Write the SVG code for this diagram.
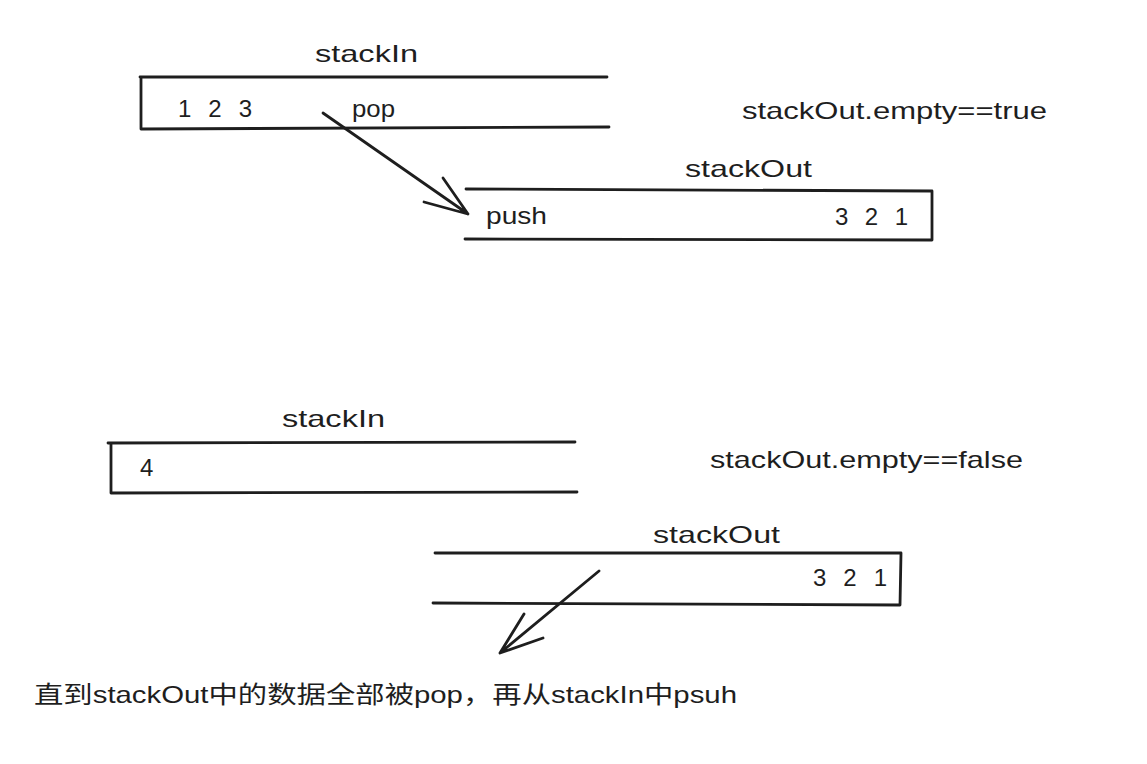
<svg xmlns="http://www.w3.org/2000/svg" width="1147" height="764" viewBox="0 0 1147 764">
<style>
.s{fill:none;stroke:#1e1e1e;stroke-width:2.8;stroke-linecap:round;stroke-linejoin:round}
.t{font-family:"Liberation Sans","Noto Sans CJK SC",sans-serif;fill:#1e1e1e;font-size:24px}
</style>
<rect width="1147" height="764" fill="#ffffff"/>
<g id="stackIn-top">
<path class="s" d="M140 77 L607 77 M141 77 L141 129 L609 127"/>
<text class="t" x="315" y="62" textLength="103" lengthAdjust="spacingAndGlyphs">stackIn</text>
<text class="t" x="178" y="117" textLength="74" lengthAdjust="spacing">1 2 3</text>
<text class="t" x="352" y="117" textLength="43" lengthAdjust="spacingAndGlyphs">pop</text>
</g>
<g id="stackOut-top">
<path class="s" d="M466 189 L932 191 L932 240 L465 239"/>
<text class="t" x="685" y="177" textLength="127" lengthAdjust="spacingAndGlyphs">stackOut</text>
<text class="t" x="486" y="224" textLength="61" lengthAdjust="spacingAndGlyphs">push</text>
<text class="t" x="835" y="225" textLength="73" lengthAdjust="spacing">3 2 1</text>
</g>
<g id="cond-true">
<text class="t" x="742" y="119" textLength="305" lengthAdjust="spacingAndGlyphs">stackOut.empty==true</text>
</g>
<g id="stackIn-bottom">
<path class="s" d="M108 443 L575 442 M111 443 L111 493 L577 492"/>
<text class="t" x="282" y="427" textLength="103" lengthAdjust="spacingAndGlyphs">stackIn</text>
<text class="t" x="140" y="476">4</text>
</g>
<g id="cond-false">
<text class="t" x="710" y="468" textLength="313" lengthAdjust="spacingAndGlyphs">stackOut.empty==false</text>
</g>
<g id="stackOut-bottom">
<path class="s" d="M435 553 L901 553 L900 605 L433 603"/>
<text class="t" x="653" y="543" textLength="127" lengthAdjust="spacingAndGlyphs">stackOut</text>
<text class="t" x="813" y="586" textLength="74" lengthAdjust="spacing">3 2 1</text>
</g>
<g id="note">
<text class="t" x="34" y="703" font-size="23" textLength="703" lengthAdjust="spacingAndGlyphs">直到stackOut中的数据全部被pop，再从stackIn中psuh</text>
</g>
<g id="connectors">
<path class="s" d="M323 113 L468 214 M424 202 L468 214 L443 178"/>
<path class="s" d="M599 571 L500 653 M524 614 L500 653 L543 638"/>
</g>
</svg>
